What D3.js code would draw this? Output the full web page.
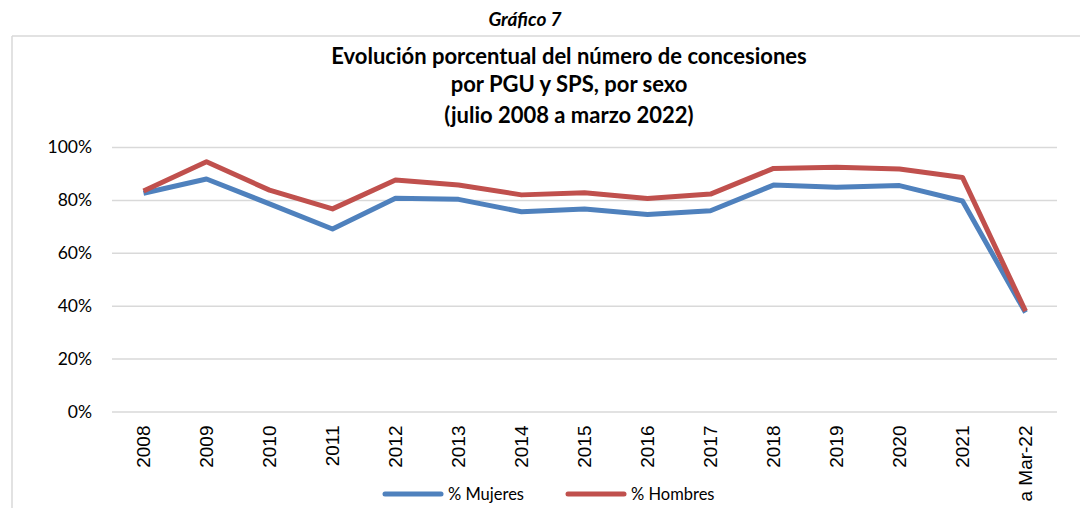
<!DOCTYPE html>
<html><head><meta charset="utf-8">
<script src="https://cdn.jsdelivr.net/npm/d3@7"></script>
<style>body{margin:0;background:#fff}svg{display:block}</style>
</head><body>
<script>
const categories = ["2008","2009","2010","2011","2012","2013","2014","2015","2016","2017","2018","2019","2020","2021","a Mar-22"];
const mujeres = [0.825,0.879,0.785,0.690,0.806,0.802,0.755,0.766,0.745,0.759,0.856,0.848,0.854,0.796,0.374];
const hombres = [0.834,0.944,0.837,0.766,0.875,0.856,0.819,0.827,0.805,0.822,0.919,0.923,0.917,0.885,0.380];
const yTicks = [0,0.2,0.4,0.6,0.8,1.0];
const seriesNames = ["% Mujeres","% Hombres"];
const colors = ["#4F81BD","#C0504D"];

const W=1080,H=508;
const svg=d3.select("body").append("svg").attr("width",W).attr("height",H);
const m={left:112,right:1057,top:147,bottom:411.5};
const x=d3.scaleBand().domain(categories).range([m.left,m.right]);
const y=d3.scaleLinear().domain([0,1]).range([m.bottom,m.top]);

// frame
svg.append("line").attr("x1",12).attr("x2",W).attr("y1",36).attr("y2",36).attr("stroke","#d9d9d9").attr("stroke-width",1.5);
svg.append("line").attr("x1",12).attr("x2",12).attr("y1",36).attr("y2",H).attr("stroke","#d9d9d9").attr("stroke-width",1.5);

svg.append("text").attr("x",525).attr("y",26).attr("text-anchor","middle")
  .style("font-family","Lato").style("font-weight","bold").style("font-style","italic").style("font-size","19px").text("Gráfico 7");
const titles=["Evolución porcentual del número de concesiones","por PGU y SPS, por sexo","(julio 2008 a marzo 2022)"];
const ty=[64,92,123];
titles.forEach((t,i)=>svg.append("text").attr("x",569).attr("y",ty[i]).attr("text-anchor","middle")
  .style("font-family","Lato").style("font-weight","bold").style("font-size","22px").attr("fill","#000").text(t));

// grid
const yAxis=d3.axisLeft(y).tickValues(yTicks).tickFormat(d3.format(".0%")).tickSize(-(m.right-m.left)).tickPadding(20);
const gy=svg.append("g").attr("transform",`translate(${m.left},0)`).call(yAxis);
gy.select(".domain").remove();
gy.selectAll(".tick line").attr("stroke","#d9d9d9").attr("stroke-width",1.5);
gy.selectAll(".tick text").style("font-family","Lato").style("font-size","17.5px").attr("fill","#000");

const xAxis=d3.axisBottom(x).tickSize(0).tickPadding(0);
const gx=svg.append("g").attr("transform",`translate(0,${m.bottom})`).call(xAxis);
gx.select(".domain").remove();
gx.selectAll(".tick text").attr("transform","rotate(-90)").attr("text-anchor","end")
  .attr("x",-14).attr("y",0).attr("dy","0.36em")
  .style("font-family","Liberation Sans").style("font-size","19px").attr("fill","#000");

const line=d3.line().x((d,i)=>x(categories[i])+x.bandwidth()/2).y(d=>y(d));
[mujeres,hombres].forEach((s,k)=>svg.append("path").datum(s).attr("d",line).attr("fill","none")
  .attr("stroke",colors[k]).attr("stroke-width",5).attr("stroke-linejoin","round"));

// legend
const lx=[385,568];
seriesNames.forEach((n,k)=>{
  svg.append("line").attr("x1",lx[k]).attr("x2",lx[k]+56).attr("y1",494).attr("y2",494).attr("stroke",colors[k]).attr("stroke-width",5).attr("stroke-linecap","round");
  svg.append("text").attr("x",lx[k]+63).attr("y",494).attr("dy","0.35em").style("font-family","Lato").style("font-size","16.5px").text(n);
});
</script>
</body></html>
